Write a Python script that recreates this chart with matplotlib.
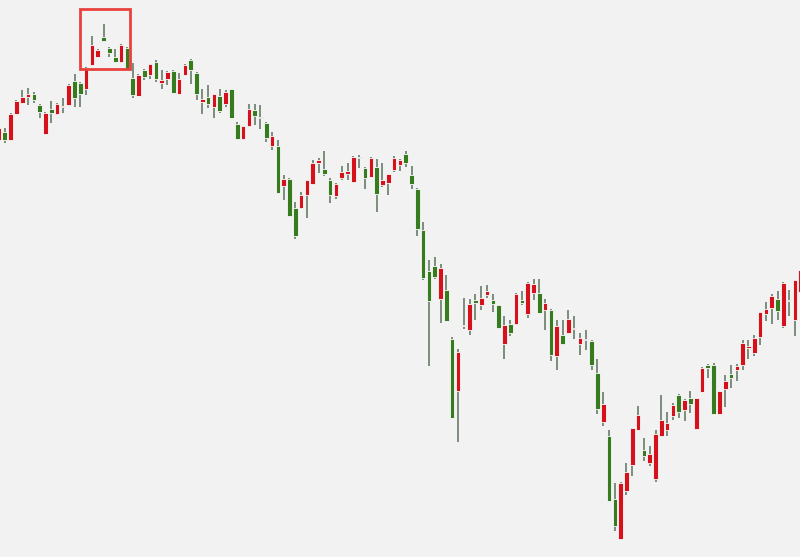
import matplotlib
matplotlib.use("Agg")
import matplotlib.pyplot as plt
from matplotlib.patches import Rectangle

# Daily OHLC (index-like price units)
opens = [3320, 3337, 3320, 3373, 3395, 3407, 3413, 3391, 3332, 3383,
         3372, 3388, 3390, 3439, 3435, 3422, 3470, 3487, 3527, 3505,
         3487, 3477, 3505, 3445, 3409, 3460, 3450, 3476, 3435, 3443,
         3459, 3413, 3451, 3480, 3455, 3397, 3407, 3387, 3408, 3393,
         3422, 3352, 3323, 3348, 3380, 3365, 3355, 3308, 3309, 3228,
         3243, 3185, 3185, 3210, 3233, 3275, 3263, 3240, 3209, 3245,
         3253, 3237, 3285, 3265, 3247, 3267, 3230, 3235, 3261, 3270,
         3293, 3250, 3223, 3141, 3058, 3068, 3002, 3020, 2922, 2819,
         2950, 2940, 3000, 2990, 3010, 3000, 2990, 2912, 2952, 2952,
         3000, 2973, 3015, 3015, 2980, 2981, 2888, 2930, 2935, 2943,
         2913, 2922, 2919, 2855, 2757, 2728, 2602, 2523, 2619, 2670,
         2741, 2700, 2675, 2643, 2729, 2741, 2769, 2811, 2780, 2805,
         2743, 2817, 2871, 2870, 2773, 2823, 2852, 2860, 2870, 2905,
         2895, 2927, 2973, 2985, 3003, 2949, 3000, 2961, 3016]
highs = [3348, 3344, 3374, 3400, 3420, 3424, 3416, 3392, 3377, 3398,
         3394, 3405, 3432, 3452, 3436, 3466, 3529, 3502, 3553, 3507,
         3503, 3513, 3506, 3475, 3453, 3463, 3473, 3481, 3460, 3459,
         3460, 3455, 3473, 3483, 3456, 3423, 3430, 3413, 3422, 3421,
         3423, 3357, 3349, 3393, 3393, 3391, 3356, 3337, 3321, 3250,
         3244, 3197, 3217, 3241, 3280, 3285, 3299, 3245, 3234, 3268,
         3275, 3288, 3290, 3266, 3286, 3283, 3275, 3253, 3288, 3283,
         3299, 3268, 3224, 3157, 3081, 3087, 3073, 3051, 2927, 2903,
         3005, 3003, 3013, 3028, 3030, 3013, 2991, 2968, 2961, 3014,
         3019, 3036, 3042, 3042, 3003, 2982, 2961, 2961, 2981, 2968,
         2935, 2940, 2920, 2883, 2817, 2741, 2635, 2636, 2675, 2745,
         2788, 2725, 2708, 2741, 2811, 2777, 2795, 2813, 2802, 2818,
         2805, 2866, 2873, 2875, 2819, 2850, 2871, 2872, 2920, 2920,
         2930, 2977, 2997, 3013, 3018, 3037, 3021, 3041, 3064]
lows = [3316, 3314, 3318, 3372, 3393, 3391, 3394, 3365, 3331, 3355,
        3370, 3375, 3389, 3387, 3387, 3411, 3469, 3486, 3517, 3487,
        3476, 3475, 3462, 3405, 3408, 3440, 3443, 3437, 3423, 3430,
        3414, 3412, 3450, 3433, 3400, 3373, 3385, 3365, 3375, 3387,
        3364, 3320, 3320, 3347, 3350, 3343, 3317, 3300, 3214, 3200,
        3167, 3123, 3183, 3165, 3230, 3255, 3248, 3195, 3203, 3241,
        3241, 3235, 3265, 3223, 3246, 3177, 3227, 3210, 3257, 3259,
        3267, 3223, 3128, 3040, 2868, 3043, 2955, 2958, 2764, 2717,
        2943, 2930, 2961, 2981, 3005, 2977, 2943, 2883, 2928, 2950,
        2990, 2965, 3001, 2974, 2940, 2879, 2860, 2910, 2932, 2923,
        2890, 2901, 2861, 2773, 2748, 2598, 2539, 2520, 2610, 2649,
        2740, 2679, 2668, 2637, 2728, 2729, 2760, 2765, 2759, 2775,
        2740, 2816, 2845, 2773, 2773, 2787, 2825, 2839, 2861, 2883,
        2888, 2910, 2959, 2953, 2960, 2945, 2968, 2928, 3000]
closes = [3344, 3321, 3372, 3398, 3407, 3413, 3401, 3377, 3375, 3375,
          3393, 3388, 3430, 3405, 3412, 3465, 3510, 3501, 3519, 3495,
          3477, 3511, 3463, 3411, 3450, 3447, 3472, 3442, 3440, 3457,
          3415, 3443, 3470, 3460, 3413, 3403, 3393, 3412, 3379, 3417,
          3365, 3323, 3348, 3383, 3369, 3365, 3325, 3328, 3215, 3243,
          3168, 3128, 3211, 3240, 3275, 3281, 3252, 3210, 3233, 3257,
          3258, 3287, 3285, 3245, 3285, 3212, 3240, 3252, 3285, 3280,
          3275, 3232, 3142, 3045, 2999, 3047, 3065, 2959, 2765, 2896,
          2950, 2993, 2995, 3005, 3018, 2992, 2945, 2950, 2935, 3013,
          2994, 3035, 3033, 2975, 2995, 2891, 2948, 2913, 2963, 2943,
          2925, 2922, 2870, 2783, 2793, 2599, 2548, 2635, 2657, 2745,
          2770, 2689, 2692, 2732, 2760, 2755, 2790, 2777, 2801, 2792,
          2805, 2865, 2865, 2773, 2819, 2838, 2845, 2868, 2915, 2909,
          2925, 2977, 2982, 3009, 2979, 3035, 3000, 3040, 3060]

# red frame around the local top: candle span and price span
frame_x = (13.95, 22.55)
frame_y = (3462, 3582)

UP = "#d5121b"
DOWN = "#367c1f"
FLAT = "#6e2a2a"
WICK = "#5a735c"
BG = "#f2f2f2"

fig = plt.figure(figsize=(8, 5.57), dpi=100)
fig.patch.set_facecolor(BG)
ax = fig.add_axes([0, 0, 1, 1])
ax.set_facecolor(BG)

idx = list(range(len(opens)))
ax.vlines(idx, lows, highs, color=WICK, linewidth=1.1, zorder=1)

bottoms, heights, colours = [], [], []
for o, c in zip(opens, closes):
    if c == o:
        bottoms.append(o - 1)
        heights.append(2)
        colours.append(FLAT)
    else:
        bottoms.append(min(o, c))
        heights.append(abs(c - o))
        colours.append(UP if c > o else DOWN)
ax.bar(idx, heights, bottom=bottoms, width=0.8, color=colours,
       edgecolor="#fbfbfb", linewidth=0.6, zorder=2)

ax.add_patch(Rectangle((frame_x[0], frame_y[0]), frame_x[1] - frame_x[0],
                       frame_y[1] - frame_y[0], fill=False,
                       edgecolor="#e8413e", linewidth=2.0, zorder=3))

ax.set_xlim(0.17, 137.87)
ax.set_ylim(2486, 3600)
ax.axis("off")

fig.savefig("out.png", dpi=100, facecolor=BG)
